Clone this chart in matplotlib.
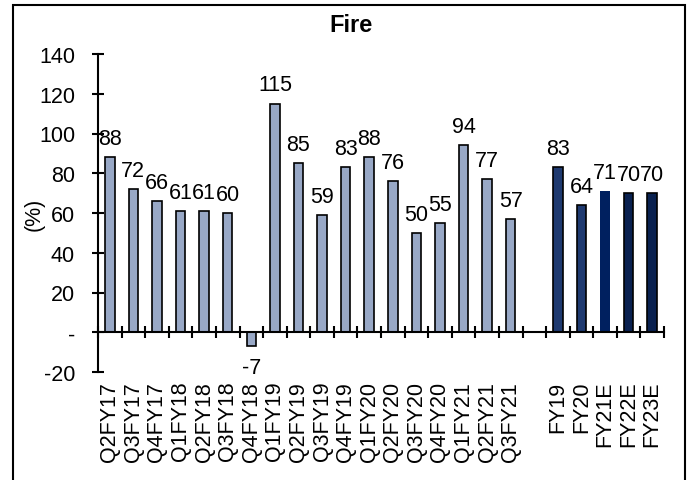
import matplotlib
matplotlib.use("Agg")
import matplotlib.pyplot as plt
from matplotlib.patches import Rectangle
import numpy as np

plt.rcParams['font.family'] = ['Liberation Sans', 'DejaVu Sans']

categories = ["Q2FY17", "Q3FY17", "Q4FY17", "Q1FY18", "Q2FY18", "Q3FY18", "Q4FY18",
              "Q1FY19", "Q2FY19", "Q3FY19", "Q4FY19", "Q1FY20", "Q2FY20", "Q3FY20",
              "Q4FY20", "Q1FY21", "Q2FY21", "Q3FY21", "",
              "FY19", "FY20", "FY21E", "FY22E", "FY23E"]
values = [88, 72, 66, 61, 61, 60, -7, 115, 85, 59, 83, 88, 76, 50, 55, 94, 77, 57, None,
          83, 64, 71, 70, 70]
labels = ["88", "72", "66", "61", "61", "60", "-7", "115", "85", "59", "83", "88", "76",
          "50", "55", "94", "77", "57", "", "83", "64", "71", "70", "70"]

light = "#98A8C6"
colors = [light] * 19 + ["#1F3A70", "#1F3A70", "#00205F", "#0A2150", "#0A2150"]
edges = ["black"] * 21 + ["none", "black", "black"]

FS = 15.5

fig = plt.figure(figsize=(6.9, 4.81), dpi=100)
ax = fig.add_axes([98/690, 1-373/481, (664-98)/690, (373-55)/481])

x = np.arange(len(categories))
for i, (v, c, e) in enumerate(zip(values, colors, edges)):
    if v is None:
        continue
    ax.bar(x[i], v, width=0.4, color=c, edgecolor=e, linewidth=1.2 if e != "none" else 0)
    if v >= 0:
        ax.annotate(labels[i], (x[i], v), xytext=(0, 6), textcoords="offset points",
                    ha="center", va="bottom", fontsize=FS)
    else:
        ax.annotate(labels[i], (x[i], v), xytext=(0, -8), textcoords="offset points",
                    ha="center", va="top", fontsize=FS)

ax.set_xlim(-0.5, len(categories) - 0.5)
ax.set_ylim(-20, 140)
ax.set_yticks(np.arange(-20, 141, 20))
ax.set_yticklabels(["-20", "-", "20", "40", "60", "80", "100", "120", "140"])
ax.tick_params(axis="y", direction="inout", length=9, width=1.5, labelsize=FS, pad=12)
ax.set_ylabel("(%)", fontsize=FS, labelpad=-4)

for s in ["top", "right"]:
    ax.spines[s].set_visible(False)
ax.spines["left"].set_linewidth(1.5)
ax.spines["bottom"].set_position(("data", 0))
ax.spines["bottom"].set_linewidth(1.5)

ax.set_xticks(x)
ax.set_xticklabels(categories, rotation=90, fontsize=FS)
ax.set_xticks(np.arange(-0.5, len(categories), 1.0), minor=True)
ax.tick_params(axis="x", which="major", length=0, pad=35)
ax.tick_params(axis="x", which="minor", direction="inout", length=9, width=1.5)

fig.text(351/690, 1-25/481, "Fire", ha="center", va="center", fontsize=17, fontweight="bold")

frame = Rectangle((13/690, -0.05), (685-13)/690, 1-6/481 + 0.05, transform=fig.transFigure,
                  fill=False, edgecolor="black", linewidth=1.5, clip_on=False)
fig.add_artist(frame)

fig.savefig("out.png", dpi=100)
